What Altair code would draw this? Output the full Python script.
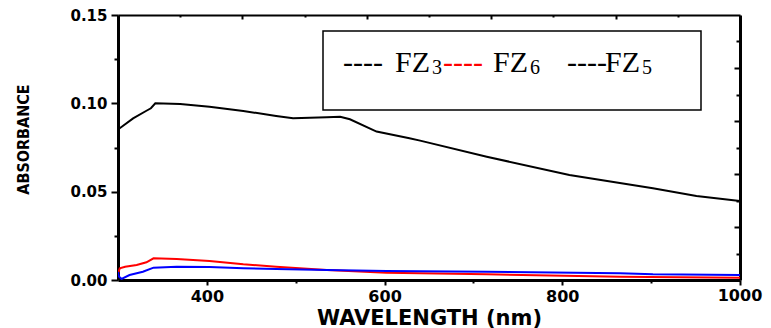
import altair as alt
import pandas as pd

# ---- data ----
wl_black = [300, 302, 317, 332, 337, 342, 370, 403, 441, 478, 497, 535, 550, 561, 591, 628, 640, 715, 808, 902, 951, 1000]
abs_black = [0.0855, 0.0859, 0.0915, 0.0958, 0.0972, 0.1000, 0.0996, 0.0981, 0.0957, 0.0928, 0.0915, 0.0921, 0.0924, 0.0910, 0.0840, 0.0802, 0.0789, 0.0698, 0.0594, 0.0519, 0.0475, 0.0447]

wl_red = [300, 302, 308, 321, 332, 340, 366, 403, 441, 478, 535, 602, 715, 865, 1000]
abs_red = [0.0038, 0.0066, 0.0075, 0.0085, 0.0100, 0.0123, 0.0119, 0.0108, 0.0089, 0.0075, 0.0057, 0.0041, 0.0032, 0.0019, 0.0013]

wl_blue = [300, 301, 304, 313, 328, 340, 366, 403, 441, 478, 535, 602, 715, 865, 902, 1000]
abs_blue = [0.0045, 0.0020, 0.0006, 0.0028, 0.0047, 0.0070, 0.0075, 0.0074, 0.0066, 0.0062, 0.0057, 0.0051, 0.0047, 0.0038, 0.0032, 0.0028]

series_names = ["FZ3", "FZ6", "FZ5"]
series_colors = ["#000000", "#ff0000", "#0000ff"]

x_major = [400, 600, 800, 1000]
x_minor = [500, 700, 900]
y_major = [0.0, 0.05, 0.10, 0.15]
y_minor = [0.025, 0.075, 0.125]
top_major = [440, 580, 720, 860]
top_minor = [370, 510, 650, 790, 930]
right_major = [0.03, 0.06, 0.09, 0.12]
right_minor = [0.015, 0.045, 0.075, 0.105, 0.135]

legend_dashes = ["----", "----", "----"]
legend_labels = ["FZ", "FZ", "FZ"]
legend_subs = ["3", "6", "5"]

x_title = "WAVELENGTH (nm)"
y_title = "ABSORBANCE"

W, H = 622, 265

rows = []
for name, wls, vals in [("FZ3", wl_black, abs_black), ("FZ6", wl_red, abs_red), ("FZ5", wl_blue, abs_blue)]:
    for i, (w, v) in enumerate(zip(wls, vals)):
        rows.append({"series": name, "wl": w, "abs": v, "order": i})
df = pd.DataFrame(rows)

xscale = alt.Scale(domain=[300, 1000], nice=False, zero=False)
yscale = alt.Scale(domain=[0, 0.15], nice=False, zero=False)

LABEL_FONT = "DejaVu Sans"
last_x = x_major[-1]

lines = alt.Chart(df).mark_line(strokeWidth=2, clip=True).encode(
    x=alt.X("wl:Q", scale=xscale,
            axis=alt.Axis(orient="bottom", values=x_major, format="d", grid=False,
                          domainWidth=3, domainColor="black", tickColor="black", tickWidth=2,
                          tickSize=5, labelFont=LABEL_FONT, labelFontWeight="bold",
                          labelFontSize=16, labelColor="black", labelPadding=3,
                          labelFlush=False, labelOverlap=False,
                          labelExpr=f"datum.value == {last_x} ? '' : datum.label",
                          title=x_title, titleFont=LABEL_FONT, titleFontWeight="bold",
                          titleFontSize=21, titleColor="black", titleX=W / 2, titleY=44,
                          titleAlign="center", titleBaseline="alphabetic")),
    y=alt.Y("abs:Q", scale=yscale,
            axis=alt.Axis(orient="left", values=y_major, format=".2f", grid=False,
                          domainWidth=3, domainColor="black", tickColor="black", tickWidth=2,
                          tickSize=7, labelFont=LABEL_FONT, labelFontWeight="bold",
                          labelFontSize=15, labelColor="black", labelPadding=4,
                          labelFlush=False, labelOverlap=False,
                          title=y_title,
                          titleFont="DejaVu Sans Condensed, Liberation Sans, sans-serif",
                          titleFontWeight="bold", titleFontSize=16, titleColor="black",
                          titleAngle=270, titleX=-95, titleY=124, titleAlign="center",
                          titleBaseline="middle")),
    color=alt.Color("series:N", scale=alt.Scale(domain=series_names, range=series_colors), legend=None),
    order="order:Q",
    detail="series:N",
)

# last tick label, centred on its tick like the reference
last_label = alt.Chart(pd.DataFrame({"wl": [last_x], "t": [str(last_x)]})).mark_text(
    font=LABEL_FONT, fontWeight="bold", fontSize=16, color="black",
    align="center", baseline="top"
).encode(x=alt.X("wl:Q", scale=xscale, axis=None), text="t:N", y=alt.value(H + 8))

def tick_layer(xvals, yvals, xaxis, yaxis):
    d = pd.DataFrame({"wl": [xvals[0]], "abs": [yvals[0]]})
    return alt.Chart(d).mark_point(opacity=0).encode(
        x=alt.X("wl:Q", scale=xscale, axis=xaxis),
        y=alt.Y("abs:Q", scale=yscale, axis=yaxis),
    )

minor_bl = tick_layer(
    x_minor, y_minor,
    alt.Axis(orient="bottom", values=x_minor, labels=False, domain=False, grid=False,
             tickSize=3, tickWidth=2, tickColor="black", title=None),
    alt.Axis(orient="left", values=y_minor, labels=False, domain=False, grid=False,
             tickSize=4, tickWidth=2, tickColor="black", title=None),
)

top_right_major = tick_layer(
    top_major, right_major,
    alt.Axis(orient="bottom", offset=-H, values=top_major, labels=False, grid=False,
             domainWidth=2, domainColor="black", tickSize=4, tickWidth=2,
             tickColor="black", title=None),
    alt.Axis(orient="left", offset=-W, values=right_major, labels=False, grid=False,
             domainWidth=3, domainColor="black", tickSize=6, tickWidth=2,
             tickColor="black", title=None),
)

top_right_minor = tick_layer(
    top_minor, right_minor,
    alt.Axis(orient="bottom", offset=-H, values=top_minor, labels=False, domain=False,
             grid=False, tickSize=2, tickWidth=2, tickColor="black", title=None),
    alt.Axis(orient="left", offset=-W, values=right_minor, labels=False, domain=False,
             grid=False, tickSize=4, tickWidth=2, tickColor="black", title=None),
)

# legend box (annotation, pixel placement)
box = alt.Chart(pd.DataFrame({"a": [0]})).mark_rect(
    fill="white", stroke="black", strokeWidth=1.5
).encode(x=alt.value(205), x2=alt.value(583), y=alt.value(16), y2=alt.value(95))

leg_x_dash = [225, 325, 449]
leg_x_lab = [277, 375, 487]
leg_x_sub = [314, 412, 524]
leg_dash_colors = ["#000000", "#ff0000", "#000000"]

legend_layers = []
for i in range(3):
    legend_layers.append(
        alt.Chart(pd.DataFrame({"t": [legend_dashes[i]]})).mark_text(
            font="Liberation Serif", fontSize=30, align="left", baseline="alphabetic",
            color=leg_dash_colors[i]
        ).encode(text="t:N", x=alt.value(leg_x_dash[i]), y=alt.value(57))
    )
    legend_layers.append(
        alt.Chart(pd.DataFrame({"t": [legend_labels[i]]})).mark_text(
            font="Liberation Serif", fontSize=30, align="left", baseline="alphabetic",
            color="black"
        ).encode(text="t:N", x=alt.value(leg_x_lab[i]), y=alt.value(57))
    )
    legend_layers.append(
        alt.Chart(pd.DataFrame({"t": [legend_subs[i]]})).mark_text(
            font="Liberation Serif", fontSize=20, align="left", baseline="alphabetic",
            color="black"
        ).encode(text="t:N", x=alt.value(leg_x_sub[i]), y=alt.value(59))
    )

chart = alt.layer(
    lines, minor_bl, top_right_major, top_right_minor, box, last_label, *legend_layers
).resolve_axis(x="independent", y="independent").properties(
    width=W, height=H,
    autosize=alt.AutoSizeParams(type="none"),
    padding={"left": 110, "top": 7, "right": 23, "bottom": 48},
).configure_view(stroke=None).configure(background="white")

chart.save("out.html", embed_options={"renderer": "svg", "actions": False})
